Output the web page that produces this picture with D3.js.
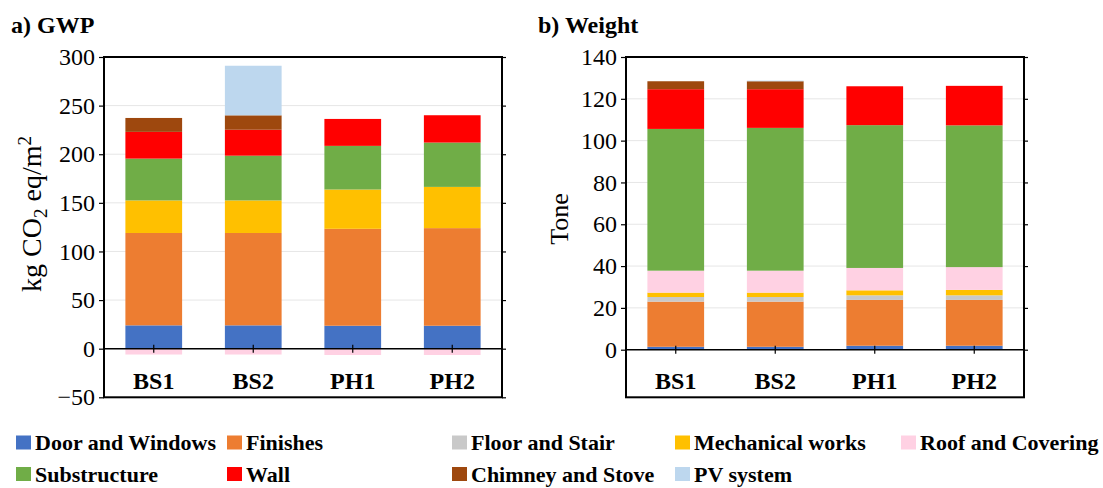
<!DOCTYPE html>
<html>
<head>
<meta charset="utf-8">
<script src="https://cdn.jsdelivr.net/npm/d3@7"></script>
<style>
  body { margin: 0; background: #fff; }
  text { font-family: "Liberation Serif", "Times New Roman", serif; }
</style>
</head>
<body>
<div id="chart"></div>
<script>
// categories and series
const categories = ["BS1", "BS2", "PH1", "PH2"];
const seriesNames = ["Door and Windows", "Finishes", "Floor and Stair", "Mechanical works",
                     "Roof and Covering", "Substructure", "Wall", "Chimney and Stove", "PV system"];
const seriesColors = ["#4472C4", "#ED7D31", "#C9C9C9", "#FFC000",
                      "#FFD1E3", "#70AD47", "#FF0000", "#9E480E", "#BDD7EE"];

// a) GWP, kg CO2 eq/m2 (one value per category)
const gwpDoor     = [24, 24, 23.6, 23.6];
const gwpFinishes = [95, 95, 99.7, 100.4];
const gwpFloor    = [0, 0, 0, 0];
const gwpMech     = [33.5, 33.5, 40.4, 42.4];
const gwpRoof     = [-6, -6, -6.5, -6.5];
const gwpSub      = [43, 46, 44.9, 45.6];
const gwpWall     = [27.5, 26.7, 27.7, 28.1];
const gwpChimney  = [14.3, 14.8, 0, 0];
const gwpPV       = [0, 51, 0, 0];
const gwpTicks    = [-50, 0, 50, 100, 150, 200, 250, 300];

// b) Weight, tone
const wDoor     = [1.4, 1.4, 1.9, 1.9];
const wFinishes = [21.6, 21.6, 21.9, 21.9];
const wFloor    = [2.2, 2.2, 2.2, 2.2];
const wMech     = [2.1, 2.1, 2.4, 2.6];
const wRoof     = [10.5, 10.5, 10.7, 10.9];
const wSub      = [67.8, 68.3, 68.3, 67.8];
const wWall     = [19, 18.5, 18.6, 18.9];
const wChimney  = [3.8, 3.8, 0, 0];
const wPV       = [0, 0.3, 0, 0];
const weightTicks = [0, 20, 40, 60, 80, 100, 120, 140];

function makeTable(cols) {
    return categories.map((c, i) => {
        const row = {cat: c};
        seriesNames.forEach((s, j) => row[s] = cols[j][i]);
        return row;
    });
}
const gwpData = makeTable([gwpDoor, gwpFinishes, gwpFloor, gwpMech, gwpRoof, gwpSub, gwpWall, gwpChimney, gwpPV]);
const weightData = makeTable([wDoor, wFinishes, wFloor, wMech, wRoof, wSub, wWall, wChimney, wPV]);

const width = 1103;
const height = 488;
const svg = d3.select("#chart").append("svg")
    .attr("width", width)
    .attr("height", height);

function drawPanel(opt) {
    const g = svg.append("g");
    const x = d3.scaleBand()
        .domain(categories)
        .range([opt.left, opt.right])
        .paddingInner(0.43)
        .paddingOuter(0.215);
    const y = d3.scaleLinear()
        .domain(opt.domain)
        .range(opt.yRange);

    // gridlines
    g.append("g").selectAll("line")
        .data(opt.ticks.filter(t => t !== 0))
        .enter().append("line")
            .attr("x1", opt.left).attr("x2", opt.right)
            .attr("y1", d => y(d)).attr("y2", d => y(d))
            .attr("stroke", "#e6e6e6").attr("stroke-width", 1);

    // bars
    const stack = d3.stack().keys(seriesNames).offset(d3.stackOffsetDiverging);
    const layers = stack(opt.data);
    g.append("g").selectAll("g")
        .data(layers)
        .enter().append("g")
            .attr("fill", (d, i) => seriesColors[i])
        .selectAll("rect")
        .data(d => d)
        .enter().append("rect")
            .attr("x", d => x(d.data.cat))
            .attr("width", x.bandwidth())
            .attr("y", d => y(Math.max(d[0], d[1])))
            .attr("height", d => Math.abs(y(d[0]) - y(d[1])));

    // zero line and x ticks
    g.append("line")
        .attr("x1", opt.left).attr("x2", opt.right)
        .attr("y1", y(0)).attr("y2", y(0))
        .attr("stroke", "#000").attr("stroke-width", 1.5);
    g.append("g").selectAll("line")
        .data(categories)
        .enter().append("line")
            .attr("x1", d => x(d) + x.bandwidth() / 2)
            .attr("x2", d => x(d) + x.bandwidth() / 2)
            .attr("y1", y(0) - 4).attr("y2", y(0) + 4)
            .attr("stroke", "#000").attr("stroke-width", 1.2);

    // x labels
    g.append("g").selectAll("text")
        .data(categories)
        .enter().append("text")
            .attr("x", d => x(d) + x.bandwidth() / 2)
            .attr("y", 389)
            .attr("text-anchor", "middle")
            .attr("font-weight", "bold")
            .attr("font-size", 24)
            .text(d => d);

    // y axis left
    const yAxis = g.append("g")
        .attr("transform", `translate(${opt.left},0)`)
        .call(d3.axisLeft(y).tickValues(opt.ticks).tickSize(5).tickPadding(4));
    yAxis.attr("font-family", null);
    yAxis.select(".domain").remove();
    yAxis.selectAll("text")
        .attr("font-size", 24)
        .attr("fill", "#000");
    yAxis.selectAll("line").attr("stroke-width", 1.2);

    // right side ticks, no labels
    const yAxisR = g.append("g")
        .attr("transform", `translate(${opt.right},0)`)
        .call(d3.axisRight(y).tickValues(opt.ticks).tickSize(4).tickFormat(""));
    yAxisR.select(".domain").remove();
    yAxisR.selectAll("line").attr("stroke-width", 1.2);

    // frame
    g.append("rect")
        .attr("x", opt.left).attr("y", opt.top)
        .attr("width", opt.right - opt.left)
        .attr("height", opt.bottom - opt.top)
        .attr("fill", "none")
        .attr("stroke", "#000")
        .attr("stroke-width", 2);

    // title
    g.append("text")
        .attr("x", opt.titleX).attr("y", 33)
        .attr("font-weight", "bold")
        .attr("font-size", 24)
        .text(opt.title);

    return g;
}

const left = drawPanel({
    data: gwpData, domain: [-50, 300], ticks: gwpTicks,
    left: 104, right: 502, top: 57, bottom: 397.3, yRange: [397.3, 57],
    title: "a) GWP", titleX: 11
});
const right = drawPanel({
    data: weightData, domain: [0, 140], ticks: weightTicks,
    left: 626, right: 1024, top: 57, bottom: 397.3, yRange: [349.7, 57],
    title: "b) Weight", titleX: 538
});

// y axis titles
const yt = left.append("text")
    .attr("transform", "translate(41,214) rotate(-90)")
    .attr("text-anchor", "middle")
    .attr("font-size", 28);
yt.append("tspan").text("kg CO");
yt.append("tspan").attr("font-size", 19).attr("dy", 6).text("2");
yt.append("tspan").attr("dy", -6).text(" eq/m");
yt.append("tspan").attr("font-size", 19).attr("dy", -10).text("2");

right.append("text")
    .attr("transform", "translate(568,219) rotate(-90)")
    .attr("text-anchor", "middle")
    .attr("font-size", 26)
    .text("Tone");

// legend
const legendCols = [16, 227, 452, 675, 901];
const legendRows = [442.5, 474];
const legendItems = seriesNames.map((s, i) => ({
    name: s, color: seriesColors[i],
    x: legendCols[i < 5 ? i : i - 5],
    y: legendRows[i < 5 ? 0 : 1]
}));
const legend = svg.append("g").selectAll("g")
    .data(legendItems)
    .enter().append("g")
        .attr("transform", d => `translate(${d.x},${d.y})`);
legend.append("rect")
    .attr("x", 0).attr("y", -7)
    .attr("width", 15).attr("height", 14)
    .attr("fill", d => d.color);
legend.append("text")
    .attr("x", 19).attr("y", 0)
    .attr("dy", "0.35em")
    .attr("font-weight", "bold")
    .attr("font-size", 22)
    .text(d => d.name);
</script>
</body>
</html>
